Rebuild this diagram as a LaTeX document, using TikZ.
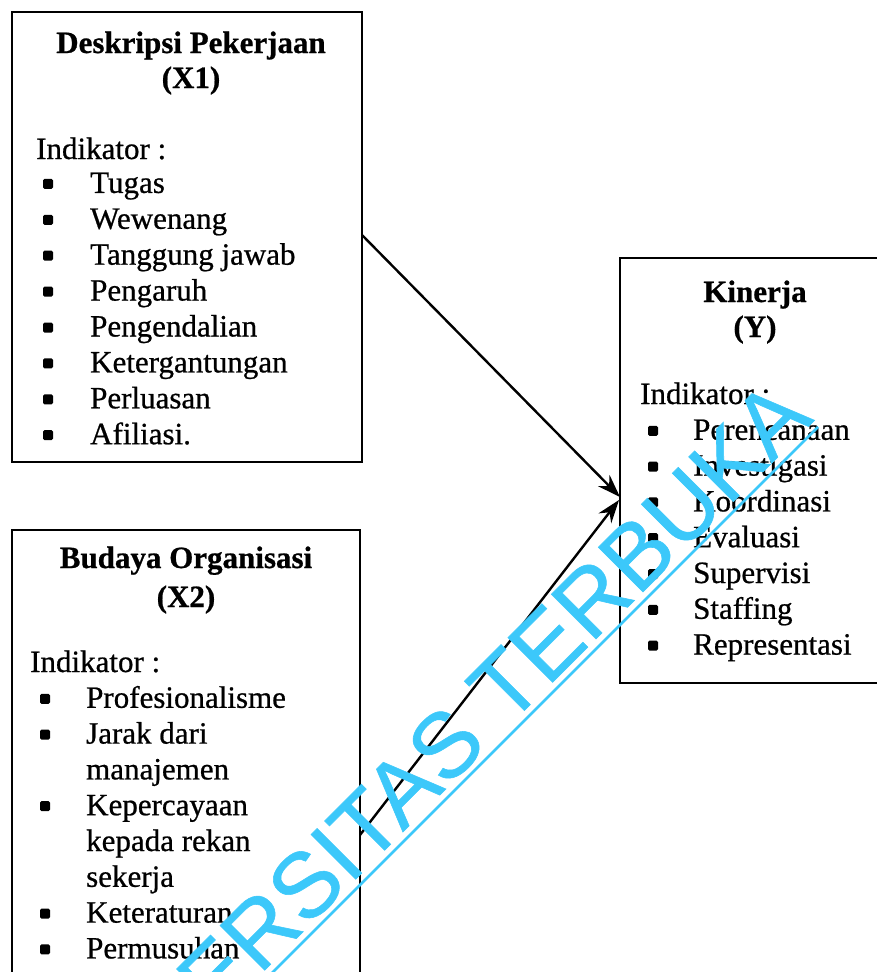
\documentclass[tikz,border=0pt]{standalone}
\usepackage{fontspec}
\setmainfont{Liberation Serif}
\newfontfamily\scanfont{Liberation Serif}[FakeBold=0.7]
\newfontfamily\wmfont{Liberation Sans}[FakeBold=0.6]
\usetikzlibrary{arrows.meta,calc}
\definecolor{wmcol}{RGB}{60,200,250}
\begin{document}
\begin{tikzpicture}[x=1pt,y=-1pt,
  boxline/.style={draw=black,line width=2.8pt,rectangle,inner sep=0pt,outer sep=0pt,anchor=north west},
  txt/.style={anchor=base west,inner sep=0pt,font=\scanfont\fontsize{31}{36}\selectfont},
  ttl/.style={anchor=base,inner sep=0pt,font=\scanfont\fontsize{31}{36}\selectfont\bfseries},
  bul/.style={fill=black,rectangle,minimum size=10pt,inner sep=0pt,rounded corners=1.5pt},
  conn/.style={line width=2.4pt,-{Stealth[length=23pt,width=16pt]}}]
\useasboundingbox (0,0) rectangle (877,972);
\clip (0,0) rectangle (877,972);

% boxes
\node[boxline,minimum width=350pt,minimum height=450pt] (x1) at (12,12) {};
\node[boxline,minimum width=348pt,minimum height=480pt] (x2) at (12,530) {};
\node[boxline,minimum width=290pt,minimum height=425pt] (y) at (620,258) {};

% X1 text
\node[ttl] (x1t1) at (191,53) {Deskripsi Pekerjaan};
\node[ttl] (x1t2) at (191,88) {(X1)};
\node[txt] (x1ind) at (36,159) {Indikator :};
\foreach \t [count=\i] in {Tugas,Wewenang,Tanggung jawab,Pengaruh,Pengendalian,Ketergantungan,Perluasan,Afiliasi.}{
  \node[txt] (x1i\i) at (90,157+\i*35.9) {\t};
  \node[bul] (x1b\i) at (48,148+\i*35.9) {};
}

% X2 text
\node[ttl] (x2t1) at (186,568) {Budaya Organisasi};
\node[ttl] (x2t2) at (186,607) {(X2)};
\node[txt] (x2ind) at (30,672) {Indikator :};
\foreach \t [count=\i] in {Profesionalisme,Jarak dari,manajemen,Kepercayaan,kepada rekan,sekerja,Keteraturan,Permusuhan}{
  \node[txt] (x2i\i) at (86,672+\i*35.8) {\t};
}
\foreach \i in {1,2,4,7,8}{
  \node[bul] (x2b\i) at (45,663+\i*35.8) {};
}

% Y text
\node[ttl] (yt1) at (755,302) {Kinerja};
\node[ttl] (yt2) at (755,337) {(Y)};
\node[txt] (yind) at (640,404) {Indikator :};
\foreach \t [count=\i] in {Perencanaan,Investigasi,Koordinasi,Evaluasi,Supervisi,Staffing,Representasi}{
  \node[txt] (yi\i) at (693,404+\i*35.8) {\t};
  \node[bul] (yb\i) at (653,395+\i*35.8) {};
}

% connectors
\coordinate (s1) at ($(x1.north east)+(0,223)$);
\coordinate (s2) at ($(x2.north east)+(0,305)$);
\coordinate (e1) at ($(y.north west)+(0,239)$);
\coordinate (e2) at ($(y.north west)+(-1,242)$);
\draw[conn] (s1) -- (e1);
\draw[conn] (s2) -- (e2);

% watermark
\node[rotate=45,anchor=base east,inner sep=0pt,text=wmcol,
  font=\wmfont\fontsize{92}{92}\selectfont] (wm) at (815,420) {UNIVERSITAS TERBUKA};
\coordinate (u1) at (818,427);
\coordinate (u2) at (150,1095);
\draw[wmcol,line width=2.6pt] (u1) -- (u2);
\end{tikzpicture}
\end{document}
